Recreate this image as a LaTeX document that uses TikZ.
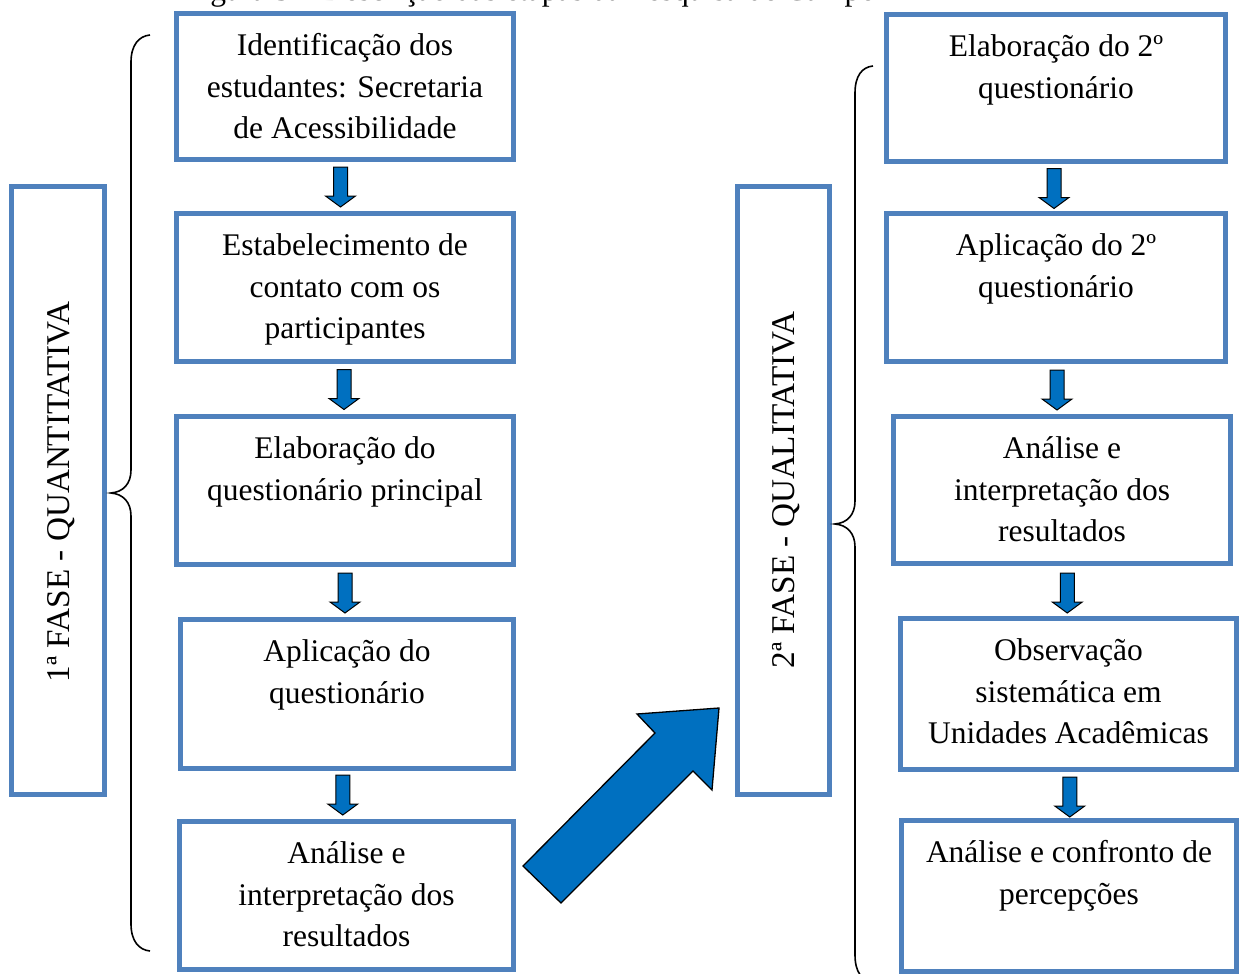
\documentclass[tikz,border=0pt]{standalone}
\usepackage{fontspec}
\setmainfont{Liberation Serif}
\usetikzlibrary{calc}
\definecolor{boxblue}{RGB}{79,129,189}
\definecolor{arrblue}{RGB}{0,112,192}
\newcommand\bxfont{\fontsize{31.5}{41.5}\selectfont}
\newcommand\phfont{\fontsize{33.2}{40}\selectfont}
\begin{document}
\begin{tikzpicture}[x=1pt,y=-1pt,
  box/.style={draw=boxblue,line width=5pt,inner sep=0pt},
  txt/.style={font=\bxfont,align=center,inner sep=0pt,anchor=north},
  phasetxt/.style={font=\phfont,inner sep=0pt,rotate=90,anchor=base},
  brace/.style={draw=black,line width=1.6pt},
  downarr/.pic={\filldraw[fill=arrblue,draw=black,line width=1pt]
     (-7,-20) -- (7,-20) -- (7,9) -- (15,9) -- (0,20) -- (-15,9) -- (-7,9) -- cycle;}
]
\useasboundingbox (0,0) rectangle (1239,974);
\clip (0,0) rectangle (1239,974);

% title (cut off at the top)
\node[font=\bxfont,anchor=base west,inner sep=0pt] (title) at (184,0.5)
  {Figura 3 – Descrição das etapas da Pesquisa de Campo};

% phase boxes
\node[box,minimum width=93pt,minimum height=608pt] (p1) at (58,490.5) {};
\node[phasetxt] (p1t) at (69,492) {1ª FASE - QUANTITATIVA};
\node[box,minimum width=92pt,minimum height=608pt] (p2) at (783.5,490.5) {};
\node[phasetxt] (p2t) at (794,490) {2ª FASE - QUALITATIVA};

% left column
\node[box,minimum width=337pt,minimum height=146pt] (b1) at (345,86.5) {};
\node[box,minimum width=337pt,minimum height=148pt] (b2) at (345,287.5) {};
\node[box,minimum width=337pt,minimum height=148pt] (b3) at (345,490.5) {};
\node[box,minimum width=333pt,minimum height=149pt] (b4) at (347,694) {};
\node[box,minimum width=334pt,minimum height=148pt] (b5) at (346.5,895.5) {};

\node[txt] (t1) at (345,26.7) {\strut Identificação dos\\estudantes: Secretaria\\de Acessibilidade};
\node[txt] (t2) at (345,226.7) {\strut Estabelecimento de\\contato com os\\participantes};
\node[txt] (t3) at (345,429.7) {\strut Elaboração do\\questionário principal};
\node[txt] (t4) at (347,632.7) {\strut Aplicação do\\questionário};
\node[txt] (t5) at (346.5,834.7) {\strut Análise e\\interpretação dos\\resultados};

% right column
\node[box,minimum width=339pt,minimum height=147pt] (r1) at (1056,88) {};
\node[box,minimum width=339pt,minimum height=148pt] (r2) at (1056,287.5) {};
\node[box,minimum width=337pt,minimum height=147pt] (r3) at (1062,490) {};
\node[box,minimum width=336pt,minimum height=151pt] (r4) at (1068.5,694) {};
\node[box,minimum width=335pt,minimum height=151pt] (r5) at (1069,896) {};

\node[txt] (u1) at (1056,27.5) {\strut Elaboração do 2º\\questionário};
\node[txt] (u2) at (1056,226.7) {\strut Aplicação do 2º\\questionário};
\node[txt] (u3) at (1062,429.7) {\strut Análise e\\interpretação dos\\resultados};
\node[txt] (u4) at (1068.5,631.7) {\strut Observação\\sistemática em\\Unidades Acadêmicas};
\node[txt] (u5) at (1069,833.7) {\strut Análise e confronto de\\percepções};

% small arrows between boxes
\pic at ($(b1.south)!0.5!(b2.north)+(-4.5,0.5)$) {downarr};
\pic at ($(b2.south)!0.5!(b3.north)+(-1,0.5)$) {downarr};
\pic at ($(b3.south)!0.5!(b4.north)+(-1,1)$) {downarr};
\pic at ($(b4.south)!0.5!(b5.north)+(-4,0)$) {downarr};
\pic at ($(r1.south)!0.5!(r2.north)+(-2,1)$) {downarr};
\pic at ($(r2.south)!0.5!(r3.north)+(-2,1)$) {downarr};
\pic at ($(r3.south)!0.5!(r4.north)+(2,2)$) {downarr};
\pic at ($(r4.south)!0.5!(r5.north)+(1,2)$) {downarr};

% big arrow from phase 1 to phase 2
\filldraw[fill=arrblue,draw=black,line width=1.3pt,line join=miter]
  (523,866) -- (655,733) -- (637,714) -- (719,708) -- (712,790) -- (693,771) -- (561,903) -- cycle;

% braces
\draw[brace] (150,35) .. controls (139,36) and (131,45) .. (131,62) -- (131,470)
  .. controls (131,484) and (123,492) .. (111,493)
  .. controls (123,494) and (131,502) .. (131,516) -- (131,924)
  .. controls (131,941) and (139,950) .. (150,951);
\draw[brace] (873,66) .. controls (862,67) and (855,76) .. (855,93) -- (855,501)
  .. controls (855,515) and (847,523) .. (835,524)
  .. controls (847,525) and (855,533) .. (855,547) -- (855,955)
  .. controls (855,972) and (862,981) .. (873,982);
\end{tikzpicture}
\end{document}
